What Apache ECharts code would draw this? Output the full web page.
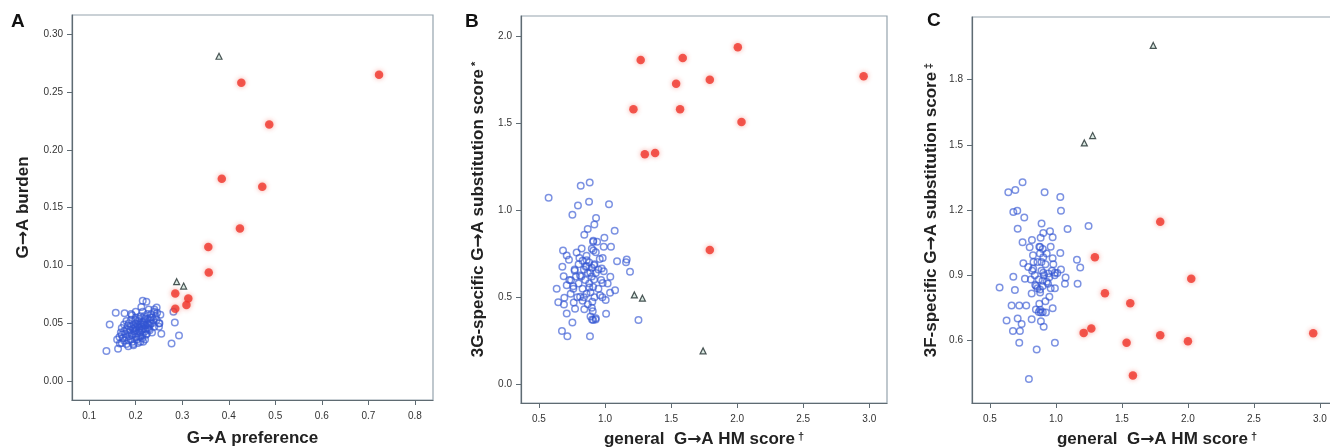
<!DOCTYPE html>
<html><head><meta charset="utf-8">
<script src="https://cdn.jsdelivr.net/npm/echarts@6/dist/echarts.min.js"></script>
<style>html,body{margin:0;padding:0;background:#fff;overflow:hidden}#c{width:1330px;height:448px}</style>
</head><body><div id="c"></div>
<script>
// ---------- Panel A ----------
const aBlue = [[0.137,0.026],[0.162,0.028],[0.157,0.059],[0.176,0.0586],[0.144,0.049],[0.192,0.057],[0.215,0.0695],[0.223,0.0686],[0.212,0.064],[0.245,0.0637],[0.253,0.0574],[0.255,0.041],[0.251,0.050],[0.277,0.0325],[0.284,0.0507],[0.293,0.0395],[0.281,0.060],[0.166,0.0325],[0.184,0.030],[0.195,0.032],[0.216,0.034],
[0.17,0.040],[0.175,0.035],[0.18,0.045],[0.18,0.038],[0.185,0.050],[0.185,0.042],[0.19,0.036],[0.19,0.047],[0.19,0.053],[0.195,0.041],[0.195,0.045],[0.2,0.050],[0.2,0.038],[0.2,0.044],[0.2,0.055],[0.205,0.047],[0.205,0.033],[0.205,0.052],[0.21,0.042],[0.21,0.049],[0.21,0.056],[0.21,0.038],[0.215,0.045],[0.215,0.051],[0.215,0.060],[0.22,0.048],[0.22,0.043],[0.22,0.054],[0.22,0.036],[0.225,0.050],[0.225,0.046],[0.225,0.058],[0.23,0.052],[0.23,0.044],[0.23,0.048],[0.235,0.055],[0.235,0.050],[0.24,0.060],[0.24,0.047],[0.245,0.053],[0.25,0.050],[0.165,0.038],[0.17,0.046],[0.175,0.043],[0.18,0.032],[0.195,0.031],[0.21,0.034],[0.215,0.040],[0.2,0.060],[0.19,0.058],[0.18,0.052],[0.24,0.062],[0.228,0.062],[0.235,0.042],[0.2,0.047],[0.207,0.043],[0.213,0.047],[0.218,0.052],[0.195,0.049],[0.188,0.044],[0.175,0.049],[0.222,0.040],[0.226,0.054],[0.243,0.056],[0.25,0.047],[0.17,0.033],[0.16,0.036],[0.185,0.035],
[0.198,0.046],[0.203,0.041],[0.208,0.046],[0.212,0.050],[0.217,0.049],[0.221,0.045],[0.227,0.049],[0.232,0.050],[0.204,0.049],[0.197,0.043],[0.192,0.040],[0.187,0.039],[0.202,0.036],[0.212,0.044],[0.218,0.056],[0.233,0.058],[0.238,0.053],[0.228,0.045],[0.208,0.054],[0.199,0.053],[0.183,0.048],[0.178,0.041],[0.214,0.037],[0.224,0.041],[0.246,0.059],[0.206,0.039],[0.193,0.034],[0.172,0.037],[0.168,0.042],[0.232,0.055]];
const aRed = [[0.723,0.265],[0.427,0.258],[0.487,0.222],[0.385,0.175],[0.472,0.168],[0.424,0.132],[0.356,0.116],[0.357,0.094],[0.285,0.0758],[0.285,0.0625],[0.313,0.0715],[0.309,0.0657]];
const aTri = [[0.379,0.281],[0.288,0.086],[0.303,0.0822]];
const aXTicks = [0.1,0.2,0.3,0.4,0.5,0.6,0.7,0.8];
const aYTicks = [0.00,0.05,0.10,0.15,0.20,0.25,0.30];

// ---------- Panel B ----------
const bBlue = [[0.573,1.073],[0.816,1.142],[0.884,1.161],[0.879,1.050],[0.795,1.029],[1.030,1.035],[0.753,0.975],[0.932,0.956],[0.919,0.919],[0.869,0.894],[0.843,0.860],[1.073,0.883],[0.995,0.843],[0.911,0.825],[1.045,0.791],[0.990,0.791],[0.682,0.770],[0.823,0.781],[0.785,0.758],[0.912,0.770],[0.710,0.741],[0.727,0.716],[0.982,0.727],[0.806,0.727],[0.861,0.714],[1.091,0.708],[1.164,0.718],[1.159,0.702],[0.677,0.676],[0.854,0.676],[0.917,0.685],[0.975,0.666],[0.770,0.653],[0.889,0.641],[0.811,0.626],[0.687,0.622],[1.040,0.618],[1.189,0.647],[0.742,0.599],[0.917,0.603],[0.982,0.583],[0.634,0.549],[0.760,0.564],[0.881,0.557],[1.076,0.541],[1.038,0.526],[0.692,0.497],[0.811,0.503],[0.962,0.512],[0.646,0.472],[0.689,0.459],[0.763,0.470],[0.904,0.474],[1.005,0.484],[0.843,0.432],[0.773,0.434],[0.907,0.420],[0.710,0.407],[1.008,0.405],[0.902,0.372],[0.929,0.372],[0.753,0.355],[0.674,0.307],[0.715,0.276],[0.886,0.276],[1.253,0.370],
[0.86,0.68],[0.88,0.70],[0.90,0.67],[0.92,0.69],[0.84,0.66],[0.87,0.64],[0.90,0.62],[0.93,0.64],[0.95,0.66],[0.82,0.62],[0.85,0.60],[0.88,0.58],[0.91,0.56],[0.89,0.53],[0.86,0.52],[0.83,0.55],[0.80,0.58],[0.78,0.62],[0.76,0.55],[0.74,0.52],[0.79,0.50],[0.83,0.48],[0.87,0.46],[0.90,0.44],[0.92,0.50],[0.95,0.55],[0.97,0.60],[0.99,0.65],[0.96,0.72],[0.93,0.76],[0.90,0.78],[0.86,0.74],[0.83,0.71],[0.80,0.69],[0.77,0.66],[0.73,0.60],[0.71,0.57],[0.94,0.82],[0.91,0.82],[0.89,0.39],[0.91,0.37],[0.93,0.38],[0.98,0.50],[1.02,0.58],[0.84,0.50]];
const bRed = [[1.270,1.866],[1.588,1.877],[2.005,1.939],[1.538,1.729],[1.793,1.752],[2.957,1.772],[1.215,1.583],[1.568,1.583],[2.033,1.509],[1.301,1.324],[1.379,1.330],[1.793,0.772]];
const bTri = [[1.222,0.514],[1.283,0.495],[1.742,0.192]];
const bXTicks = [0.5,1.0,1.5,2.0,2.5,3.0];
const bYTicks = [0.0,0.5,1.0,1.5,2.0];

// ---------- Panel C ----------
const cBlue = [[0.747,1.328],[0.639,1.282],[0.692,1.292],[0.914,1.282],[1.033,1.260],[1.038,1.197],[0.677,1.191],[0.707,1.197],[0.760,1.166],[0.710,1.114],[0.891,1.138],[1.088,1.112],[1.247,1.126],[0.955,1.102],[0.904,1.094],[0.975,1.074],[0.747,1.051],[0.818,1.062],[0.884,1.072],[0.801,1.028],[0.874,1.031],[0.960,1.031],[0.879,1.000],[1.033,1.002],[0.826,0.991],[0.904,0.982],[0.975,0.978],[1.159,0.971],[0.753,0.955],[0.790,0.938],[0.828,0.929],[1.184,0.935],[1.038,0.926],[0.992,0.911],[0.942,0.908],[0.904,0.911],[0.677,0.892],[0.765,0.883],[1.073,0.889],[0.899,0.874],[0.843,0.854],[0.573,0.843],[0.689,0.831],[0.992,0.840],[1.068,0.860],[1.164,0.860],[0.879,0.834],[0.816,0.815],[0.664,0.760],[0.775,0.760],[0.722,0.760],[0.874,0.768],[0.975,0.748],[0.848,0.742],[0.886,0.728],[0.924,0.728],[0.626,0.691],[0.710,0.700],[0.816,0.697],[0.740,0.675],[0.886,0.688],[0.674,0.643],[0.727,0.643],[0.907,0.662],[0.722,0.589],[0.992,0.589],[0.854,0.558],[0.795,0.422],
[0.88,1.03],[0.90,1.02],[0.86,0.96],[0.92,0.95],[0.89,0.92],[0.91,0.90],[0.87,0.88],[0.93,0.87],[0.95,0.89],[0.97,0.92],[0.99,0.90],[1.01,0.91],[0.85,0.85],[0.90,0.85],[0.94,0.86],[0.88,0.82],[0.86,0.84],[0.84,0.90],[0.82,0.92],[0.88,0.74],[0.90,0.73],[0.87,0.73],[0.92,0.78],[0.96,0.84],[0.98,0.95],[0.83,0.96],[0.89,0.96],[0.93,1.00],[0.81,0.88],[0.95,0.80]];
const cRed = [[1.790,1.146],[1.295,0.982],[2.025,0.883],[1.371,0.817],[1.563,0.771],[1.210,0.634],[1.268,0.654],[1.535,0.589],[1.790,0.623],[2.000,0.595],[2.949,0.632],[1.583,0.438]];
const cTri = [[1.737,1.958],[1.215,1.509],[1.278,1.543]];
const cXTicks = [0.5,1.0,1.5,2.0,2.5,3.0];
const cYTicks = [0.6,0.9,1.2,1.5,1.8];

const panelLetters = ['A','B','C'];
const titlesX = ['G{ar|→}A preference','general  G{ar|→}A HM score{s|†}','general  G{ar|→}A HM score{s|†}'];
const titlesY = ['G{ar|→}A burden','3G-specific G{ar|→}A substitution score{s|*}','3F-specific G{ar|→}A substitution score{s|‡}'];

const chart = echarts.init(document.getElementById('c'), null, {renderer:'canvas'});
const FONT = 'Liberation Sans';
const grids = [
  {left:72, top:15, width:361, height:385},
  {left:521, top:16, width:366, height:387},
  {left:972, top:17, width:370, height:386}
];
const xr = [[0.063,0.839],[0.364,3.134],[0.364,3.167]];
const yr = [[-0.0164,0.3167],[-0.108,2.119],[0.311,2.089]];
const xt = [aXTicks,bXTicks,cXTicks], yt = [aYTicks,bYTicks,cYTicks];
const xdec = [1,1,1], ydec = [2,1,1];
const yGap = [40,34,32];
const xGap = [30,28,28];
function axisCommon(){
  return {
    type:'value', splitLine:{show:false},
    axisLine:{show:true, onZero:false, lineStyle:{color:'#5f6b72', width:1.2}},
    axisTick:{show:true, length:5, lineStyle:{color:'#5f6b72'}},
    axisLabel:{color:'#333', fontSize:10, fontFamily:FONT},
    nameTextStyle:{fontFamily:FONT, fontSize:17, fontWeight:'bold', color:'#222',
      rich:{
        s:{fontSize:11, fontWeight:'bold', fontFamily:FONT, color:'#222', verticalAlign:'top', padding:[0,0,6,3]},
        ar:{fontSize:17, fontWeight:'bold', fontFamily:'DejaVu Sans', color:'#222'}
      }},
    nameLocation:'middle'
  };
}
const xAxes = [], yAxes = [];
for (let i=0;i<3;i++){
  const xa = axisCommon();
  Object.assign(xa,{gridIndex:i, min:xr[i][0], max:xr[i][1], name:titlesX[i], nameGap:xGap[i]});
  xa.axisTick = Object.assign({}, xa.axisTick, {customValues:xt[i]});
  const xd = xdec[i];
  xa.axisLabel = Object.assign({}, xa.axisLabel, {customValues:xt[i], formatter:v=>v.toFixed(xd), margin:11});
  xAxes.push(xa);
  const ya = axisCommon();
  Object.assign(ya,{gridIndex:i, min:yr[i][0], max:yr[i][1], name:titlesY[i], nameGap:yGap[i]});
  ya.axisTick = Object.assign({}, ya.axisTick, {customValues:yt[i]});
  const yd = ydec[i];
  ya.axisLabel = Object.assign({}, ya.axisLabel, {customValues:yt[i], formatter:v=>v.toFixed(yd), margin:9});
  yAxes.push(ya);
}
const blueStyle = {color:'rgba(255,255,255,0)', borderColor:'rgba(50,85,210,0.8)', borderWidth:1.5};
const redStyle = {color:'#f0352a', shadowBlur:5, shadowColor:'rgba(240,60,40,0.55)'};
const triStyle = {color:'rgba(190,215,205,0.7)', borderColor:'#1f2d2d', borderWidth:1.2};
const sets = [[aBlue,aRed,aTri],[bBlue,bRed,bTri],[cBlue,cRed,cTri]];
const series = [];
sets.forEach((s,i)=>{
  series.push({type:'scatter', xAxisIndex:i, yAxisIndex:i, data:s[0], symbol:'circle', symbolSize:6.5, itemStyle:blueStyle, silent:true});
  series.push({type:'scatter', xAxisIndex:i, yAxisIndex:i, data:s[1], symbol:'circle', symbolSize:8.5, itemStyle:redStyle, silent:true});
  series.push({type:'scatter', xAxisIndex:i, yAxisIndex:i, data:s[2], symbol:'triangle', symbolSize:6, itemStyle:triStyle, silent:true});
});
chart.setOption({
  animation:false,
  backgroundColor:'#ffffff',
  grid: grids.map(g=>Object.assign({show:true, borderColor:'#95a3ad', borderWidth:1.2, backgroundColor:'transparent', containLabel:false, outerBoundsMode:'none'}, g)),
  xAxis:xAxes, yAxis:yAxes, series:series,
  graphic: [
    {type:'text', left:11, top:12, style:{text:panelLetters[0], font:'bold 19px '+FONT, fill:'#111'}},
    {type:'text', left:465, top:12, style:{text:panelLetters[1], font:'bold 19px '+FONT, fill:'#111'}},
    {type:'text', left:927, top:11, style:{text:panelLetters[2], font:'bold 19px '+FONT, fill:'#111'}}
  ]
});
</script></body></html>
